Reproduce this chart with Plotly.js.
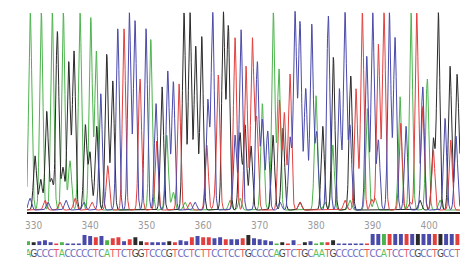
<!DOCTYPE html>
<html>
<head>
<meta charset="utf-8">
<script src="https://cdn.plot.ly/plotly-3.0.1.min.js"></script>
<style>html,body{margin:0;padding:0;background:#fff;}#chart{width:473px;height:274px;}</style>
</head>
<body>
<div id="chart"></div>
<script>
// Base calls (first base is position 329)
const firstBase = 329;
const sequence = "AGCCCTACCCCCTCATTCTGGTCCCGTCCTCTTCCTCCTGCCCCAGTCTGCAATGCCCCCTCCATCCTCGCCTGCCT";
const quality = [20,15,20,25,15,10,15,10,10,10,50,45,40,45,25,35,40,20,30,40,20,15,15,15,15,20,15,25,20,40,45,40,40,35,40,30,30,30,35,50,35,30,25,20,10,15,10,25,5,15,20,10,15,15,25,10,10,10,10,10,10,55,55,55,55,55,55,55,55,55,55,55,55,55,55,55,55];
const tickValues = [330,340,350,360,370,380,390,400];

// Trace peaks: position (base units) and height
const peaksA_pos = [329.40,331.35,333.30,335.25,336.43,338.20,340.10,341.09,350.72,353.55,370.47,372.42,373.42,379.97,382.93,389.05,394.84,396.79,399.67,356.79,364.75,366.52,381.57,385.99,390.42,401.92,354.72];
const peaksA_h   = [200,200,200,200,50,200,195,161,173,76,108,200,143,116,66,103,115,200,133,8,10,12,8,10,12,10,18];
const peaksC_pos = [341.87,344.88,346.93,347.94,349.88,351.65,353.73,354.72,360.81,361.69,365.64,366.70,369.58,370.47,371.42,375.37,376.26,377.14,378.15,379.21,380.08,382.15,384.10,385.11,385.99,388.95,390.01,391.00,392.95,393.96,395.90,398.86,402.81,404.75,329.35,332.54,335.73,338.91,358.56,373.60];
const peaksC_h   = [118,184,200,192,184,108,141,130,111,200,76,183,150,91,80,73,200,190,123,188,78,197,123,200,85,156,200,71,200,175,85,125,93,75,12,8,10,8,8,8];
const peaksG_pos = [330.24,331.25,332.31,333.19,334.19,335.19,336.20,337.14,339.14,339.97,341.16,342.93,343.99,352.72,356.61,357.67,358.68,359.74,363.57,364.45,366.52,367.41,368.47,372.36,374.13,381.16,383.04,386.12,400.73,401.62,403.69,404.88,377.14,398.38,405.34];
const peaksG_h   = [55,31,100,31,181,43,150,161,86,58,85,158,131,125,200,200,166,176,200,186,78,86,65,76,83,85,155,136,72,200,146,125,8,10,43];
const peaksT_pos = [343.11,345.99,348.82,351.78,355.73,360.63,362.68,365.64,367.58,368.70,369.48,373.48,374.36,375.37,387.05,388.17,391.00,392.01,394.96,397.80,398.86,400.73,403.81,332.01,334.66,337.32,340.33,357.67,362.10,377.14,385.11,389.83,396.61];
const peaksT_h   = [45,184,133,70,128,66,136,175,146,173,91,111,98,138,123,200,168,200,88,200,105,61,71,10,8,12,8,8,10,8,10,11,8];

const colA = '#4db34d', colC = '#4a4aaa', colG = '#2a2a2a', colT = '#e2403f';
const baseColor = {A: colA, C: colC, G: colG, T: colT};
const letterColor = {A: '#5cbf5c', C: '#6a6ac0', G: '#444444', T: '#ea5555'};

const xMin = 328.82, xMax = 405.46;
const peakWidth = 0.28;
const grid = [];
for (let x = xMin; x <= xMax + 1e-9; x += 0.03) grid.push(+x.toFixed(3));
function curve(pos, h) {
  return grid.map(x => {
    let s = 0;
    for (let i = 0; i < pos.length; i++) {
      const d = (x - pos[i]) / peakWidth;
      if (Math.abs(d) < 6) s += h[i] * Math.exp(-0.5 * d * d);
    }
    return s;
  });
}

const basePositions = sequence.split('').map((_, i) => firstBase + i);
const letters = sequence.split('');

const traces = [
  {x: grid, y: curve(peaksA_pos, peaksA_h), type: 'scatter', mode: 'lines', line: {color: colA, width: 1}, xaxis: 'x', yaxis: 'y', hoverinfo: 'skip'},
  {x: grid, y: curve(peaksG_pos, peaksG_h), type: 'scatter', mode: 'lines', line: {color: colG, width: 1}, xaxis: 'x', yaxis: 'y', hoverinfo: 'skip'},
  {x: grid, y: curve(peaksT_pos, peaksT_h), type: 'scatter', mode: 'lines', line: {color: colT, width: 1}, xaxis: 'x', yaxis: 'y', hoverinfo: 'skip'},
  {x: grid, y: curve(peaksC_pos, peaksC_h), type: 'scatter', mode: 'lines', line: {color: colC, width: 1}, xaxis: 'x', yaxis: 'y', hoverinfo: 'skip'},
  {x: basePositions, y: quality, type: 'bar', width: 0.7, marker: {color: letters.map(b => baseColor[b]), line: {width: 0}}, xaxis: 'x', yaxis: 'y2', hoverinfo: 'skip'},
  {x: basePositions, y: basePositions.map(() => 0.5), type: 'scatter', mode: 'text', text: letters,
   textfont: {family: 'Liberation Sans Narrow, DejaVu Sans Condensed, sans-serif', size: 10, color: letters.map(b => letterColor[b])},
   textposition: 'middle center', xaxis: 'x', yaxis: 'y3', hoverinfo: 'skip'}
];

const layout = {
  width: 473, height: 274,
  margin: {l: 27, r: 13, t: 0, b: 0},
  paper_bgcolor: '#fff', plot_bgcolor: '#fff',
  showlegend: false,
  xaxis: {range: [xMin, xMax], showgrid: false, zeroline: false, showline: true, linecolor: '#111', linewidth: 2.5,
          tickmode: 'array', tickvals: tickValues, ticktext: tickValues.map(String), ticks: '',
          ticklabelstandoff: 3,
          tickfont: {family: 'Liberation Sans Narrow, DejaVu Sans Condensed, sans-serif', size: 10, color: '#9a9a9a'},
          anchor: 'y', fixedrange: true},
  yaxis: {domain: [0.2263, 0.9599], range: [-2, 202], visible: false, fixedrange: true},
  yaxis2: {domain: [0.104, 0.146], range: [0, 55], visible: false, anchor: 'x', fixedrange: true},
  yaxis3: {domain: [0.035, 0.105], range: [0, 1], visible: false, anchor: 'x', fixedrange: true},
  bargap: 0.3
};

Plotly.newPlot('chart', traces, layout, {staticPlot: true, displayModeBar: false});
</script>
</body>
</html>
